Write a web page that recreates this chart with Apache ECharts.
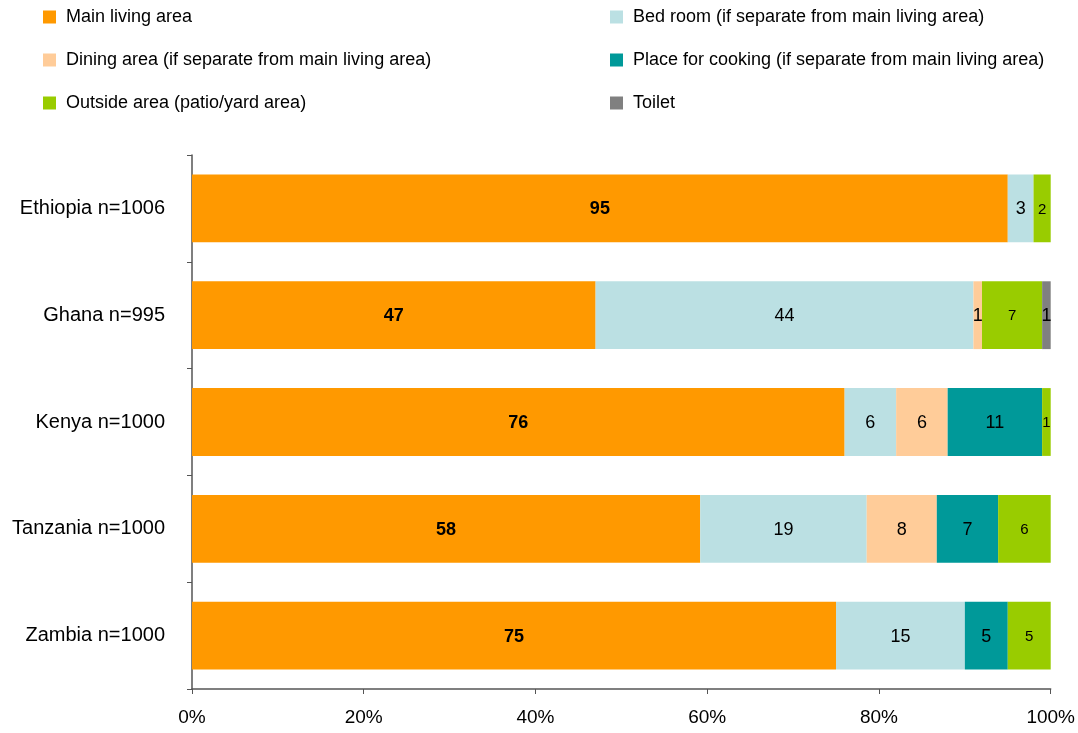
<!DOCTYPE html>
<html>
<head>
<meta charset="utf-8">
<script src="https://cdn.jsdelivr.net/npm/echarts@6/dist/echarts.min.js"></script>
<style>html,body{margin:0;padding:0;background:#fff;}#c{width:1078px;height:733px;}</style>
</head>
<body>
<div id="c"></div>
<script>
var categories = ['Ethiopia n=1006', 'Ghana n=995', 'Kenya n=1000', 'Tanzania n=1000', 'Zambia n=1000'];
var seriesNames = [
  'Main living area',
  'Bed room (if separate from main living area)',
  'Dining area (if separate from main living area)',
  'Place for cooking (if separate from main living area)',
  'Outside area (patio/yard area)',
  'Toilet'
];
var mainLiving = [95, 47, 76, 58, 75];
var bedRoom    = [3, 44, 6, 19, 15];
var dining     = [0, 1, 6, 8, 0];
var cooking    = [0, 0, 11, 7, 5];
var outside    = [2, 7, 1, 6, 5];
var toilet     = [0, 1, 0, 0, 0];
var xTicks = [0, 20, 40, 60, 80, 100];

var raw = [mainLiving, bedRoom, dining, cooking, outside, toilet];
var colors = ['#FF9900', '#BBE0E3', '#FFCC99', '#009999', '#99CC00', '#808080'];
var totals = categories.map(function (c, i) {
  return raw.reduce(function (s, arr) { return s + arr[i]; }, 0);
});
var FONT = 'Liberation Sans, Arial, sans-serif';

var series = raw.map(function (arr, k) {
  return {
    name: seriesNames[k],
    type: 'bar',
    stack: 'all',
    barCategoryGap: '36.5%',
    itemStyle: { color: colors[k] },
    label: {
      show: true,
      position: 'inside',
      offset: [0, 1],
      color: '#000',
      fontFamily: FONT,
      fontSize: k === 4 ? 15 : 18,
      fontWeight: k === 0 ? 'bold' : 'normal',
      formatter: function (p) {
        var v = arr[p.dataIndex];
        return v === 0 ? '' : String(v);
      }
    },
    data: arr.map(function (v, i) { return v / totals[i] * 100; })
  };
});

var chart = echarts.init(document.getElementById('c'));
var legendText = { fontSize: 18, color: '#000', fontFamily: FONT, padding: [0, 0, 0, 5] };
chart.setOption({
  animation: false,
  backgroundColor: '#fff',
  legend: [
    {
      orient: 'vertical', left: 43, top: 8, padding: 0, itemWidth: 13, itemHeight: 13, itemGap: 25,
      icon: 'rect', textStyle: legendText, selectedMode: false,
      data: [seriesNames[0], seriesNames[2], seriesNames[4]]
    },
    {
      orient: 'vertical', left: 610, top: 8, padding: 0, itemWidth: 13, itemHeight: 13, itemGap: 25,
      icon: 'rect', textStyle: legendText, selectedMode: false,
      data: [seriesNames[1], seriesNames[3], seriesNames[5]]
    }
  ],
  grid: { left: 192, right: 27, top: 155, bottom: 44, containLabel: false },
  xAxis: {
    type: 'value', min: 0, max: 100, interval: 20,
    axisLine: { show: true, lineStyle: { color: '#555', width: 1.5 } },
    axisTick: { show: true, length: 5, lineStyle: { color: '#555' } },
    splitLine: { show: false },
    axisLabel: {
      color: '#000', fontSize: 19, margin: 19, fontFamily: FONT,
      formatter: function (v) { return xTicks.indexOf(v) >= 0 ? v + '%' : ''; }
    }
  },
  yAxis: {
    type: 'category', inverse: true, data: categories,
    axisLine: { show: true, lineStyle: { color: '#555', width: 1.5 } },
    axisTick: { show: true, length: 5, lineStyle: { color: '#555' } },
    axisLabel: { color: '#000', fontSize: 20, margin: 27, fontFamily: FONT }
  },
  series: series
});
</script>
</body>
</html>
